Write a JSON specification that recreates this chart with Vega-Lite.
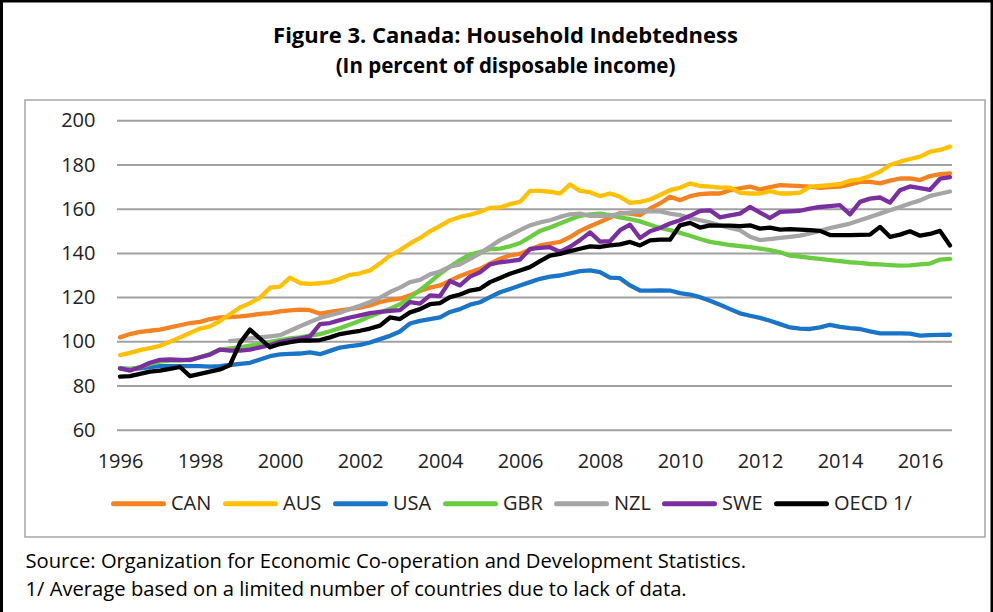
{
  "$schema": "https://vega.github.io/schema/vega-lite/v6.json",
  "width": 993,
  "height": 612,
  "autosize": "none",
  "padding": 0,
  "background": "white",
  "config": {"view": {"stroke": null}, "font": "Open Sans"},
  "title": {
    "text": "Figure 3. Canada: Household Indebtedness",
    "subtitle": "(In percent of disposable income)",
    "anchor": "middle",
    "frame": "group",
    "offset": -81,
    "dx": 9,
    "font": "Open Sans",
    "fontSize": 22,
    "fontWeight": "bold",
    "color": "#000000",
    "subtitleFont": "Open Sans",
    "subtitleFontSize": 20.5,
    "subtitleFontWeight": "bold",
    "subtitleColor": "#000000",
    "subtitlePadding": 9
  },
  "layer": [
    {
      "data": {"values": [{}]},
      "mark": {"type": "rect", "fill": "transparent", "stroke": "#a6a6a6", "strokeWidth": 1.5},
      "encoding": {
        "x": {"datum": 1993.625, "type": "quantitative", "scale": {"domain": [1993, 2017.825], "nice": false, "zero": false}},
        "x2": {"datum": 2017.625},
        "y": {"datum": 209.41, "type": "quantitative", "scale": {"domain": [-22.26, 254.66], "nice": false, "zero": false}},
        "y2": {"datum": 11.67}
      }
    },
    {
      "data": {"values": [{"g": 60}, {"g": 80}, {"g": 100}, {"g": 120}, {"g": 140}, {"g": 160}, {"g": 180}, {"g": 200}]},
      "mark": {"type": "rule", "color": "#a0a0a0", "strokeWidth": 2},
      "encoding": {
        "y": {"field": "g", "type": "quantitative"},
        "x": {"datum": 1995.925, "type": "quantitative"},
        "x2": {"datum": 2016.8}
      }
    },
    {
      "data": {"values": [
        {"t": 1996.00, "CAN": 102, "AUS": 94, "USA": 88, "GBR": 88, "NZL": null, "SWE": 88, "OECD": 84.2},
        {"t": 1996.25, "CAN": 103.5, "AUS": 95, "USA": 87.7, "GBR": 87.5, "NZL": null, "SWE": 87, "OECD": 84.5},
        {"t": 1996.50, "CAN": 104.5, "AUS": 96.2, "USA": 88, "GBR": 88.5, "NZL": null, "SWE": 88.5, "OECD": 85.5},
        {"t": 1996.75, "CAN": 105, "AUS": 97.2, "USA": 88.5, "GBR": 90, "NZL": null, "SWE": 90.5, "OECD": 86.5},
        {"t": 1997.00, "CAN": 105.5, "AUS": 98.2, "USA": 89, "GBR": 91, "NZL": null, "SWE": 91.8, "OECD": 87},
        {"t": 1997.25, "CAN": 106.5, "AUS": 100, "USA": 89, "GBR": 91.5, "NZL": null, "SWE": 92, "OECD": 87.8},
        {"t": 1997.50, "CAN": 107.5, "AUS": 102, "USA": 89, "GBR": 91.5, "NZL": null, "SWE": 91.8, "OECD": 88.6},
        {"t": 1997.75, "CAN": 108.5, "AUS": 104, "USA": 89, "GBR": 92, "NZL": null, "SWE": 91.7, "OECD": 84.5},
        {"t": 1998.00, "CAN": 109, "AUS": 106, "USA": 89, "GBR": 93, "NZL": null, "SWE": 93, "OECD": 85.5},
        {"t": 1998.25, "CAN": 110.3, "AUS": 107, "USA": 88.8, "GBR": 94.5, "NZL": null, "SWE": 94.2, "OECD": 86.5},
        {"t": 1998.50, "CAN": 111, "AUS": 109.5, "USA": 89, "GBR": 96.5, "NZL": null, "SWE": 96.5, "OECD": 87.5},
        {"t": 1998.75, "CAN": 111.2, "AUS": 112.5, "USA": 89.5, "GBR": 97, "NZL": 100.3, "SWE": 96, "OECD": 89.5},
        {"t": 1999.00, "CAN": 111.5, "AUS": 115.5, "USA": 90, "GBR": 97.5, "NZL": 100.7, "SWE": 96, "OECD": 99.5},
        {"t": 1999.25, "CAN": 112, "AUS": 117.5, "USA": 90.5, "GBR": 98.3, "NZL": 101.5, "SWE": 96.5, "OECD": 105.5},
        {"t": 1999.50, "CAN": 112.6, "AUS": 120, "USA": 92, "GBR": 99, "NZL": 102, "SWE": 97.5, "OECD": 101.5},
        {"t": 1999.75, "CAN": 113, "AUS": 124.5, "USA": 93.5, "GBR": 100, "NZL": 102.5, "SWE": 98.5, "OECD": 97.5},
        {"t": 2000.00, "CAN": 113.8, "AUS": 125, "USA": 94.3, "GBR": 100.8, "NZL": 103, "SWE": 100, "OECD": 99},
        {"t": 2000.25, "CAN": 114.2, "AUS": 129, "USA": 94.5, "GBR": 101.5, "NZL": 105, "SWE": 100.8, "OECD": 99.8},
        {"t": 2000.50, "CAN": 114.6, "AUS": 126.5, "USA": 94.7, "GBR": 102, "NZL": 107, "SWE": 101.5, "OECD": 100.5},
        {"t": 2000.75, "CAN": 114.3, "AUS": 126.2, "USA": 95.2, "GBR": 102.8, "NZL": 109, "SWE": 102.5, "OECD": 100.6},
        {"t": 2001.00, "CAN": 112.7, "AUS": 126.5, "USA": 94.4, "GBR": 103.5, "NZL": 110.8, "SWE": 108, "OECD": 100.8},
        {"t": 2001.25, "CAN": 113.5, "AUS": 127, "USA": 95.9, "GBR": 104.8, "NZL": 112, "SWE": 108.5, "OECD": 102},
        {"t": 2001.50, "CAN": 114.2, "AUS": 128.5, "USA": 97.4, "GBR": 106.2, "NZL": 113.2, "SWE": 109.8, "OECD": 103.5},
        {"t": 2001.75, "CAN": 114.8, "AUS": 130.3, "USA": 98, "GBR": 107.8, "NZL": 114.8, "SWE": 111, "OECD": 104.3},
        {"t": 2002.00, "CAN": 115.5, "AUS": 131, "USA": 98.6, "GBR": 109.5, "NZL": 116.3, "SWE": 112, "OECD": 105},
        {"t": 2002.25, "CAN": 116.5, "AUS": 132.3, "USA": 99.7, "GBR": 111.5, "NZL": 118, "SWE": 113, "OECD": 106},
        {"t": 2002.50, "CAN": 118, "AUS": 135.5, "USA": 101.2, "GBR": 113.3, "NZL": 120, "SWE": 113.5, "OECD": 107.3},
        {"t": 2002.75, "CAN": 119, "AUS": 139, "USA": 102.7, "GBR": 115, "NZL": 122.5, "SWE": 114, "OECD": 111},
        {"t": 2003.00, "CAN": 119.5, "AUS": 141.5, "USA": 104.7, "GBR": 117, "NZL": 124.5, "SWE": 114.3, "OECD": 110.3},
        {"t": 2003.25, "CAN": 121, "AUS": 144.5, "USA": 108.3, "GBR": 120, "NZL": 127, "SWE": 118, "OECD": 113.3},
        {"t": 2003.50, "CAN": 123, "AUS": 147, "USA": 109.5, "GBR": 123.5, "NZL": 128, "SWE": 117.3, "OECD": 114.8},
        {"t": 2003.75, "CAN": 124.5, "AUS": 150, "USA": 110.3, "GBR": 127, "NZL": 130.5, "SWE": 121, "OECD": 117},
        {"t": 2004.00, "CAN": 125.5, "AUS": 152.5, "USA": 111, "GBR": 130.8, "NZL": 131.8, "SWE": 120.7, "OECD": 117.5},
        {"t": 2004.25, "CAN": 127.7, "AUS": 155, "USA": 113.5, "GBR": 134, "NZL": 134, "SWE": 127.5, "OECD": 120.2},
        {"t": 2004.50, "CAN": 129.8, "AUS": 156.5, "USA": 114.8, "GBR": 137, "NZL": 135, "SWE": 125.5, "OECD": 121.4},
        {"t": 2004.75, "CAN": 131.5, "AUS": 157.5, "USA": 116.8, "GBR": 139.5, "NZL": 137.5, "SWE": 129.5, "OECD": 123.2},
        {"t": 2005.00, "CAN": 133, "AUS": 158.8, "USA": 117.9, "GBR": 140.6, "NZL": 140, "SWE": 131.5, "OECD": 124},
        {"t": 2005.25, "CAN": 135.3, "AUS": 160.6, "USA": 120.2, "GBR": 142, "NZL": 143, "SWE": 135, "OECD": 127},
        {"t": 2005.50, "CAN": 137.6, "AUS": 160.8, "USA": 122.4, "GBR": 142.2, "NZL": 146, "SWE": 136, "OECD": 128.9},
        {"t": 2005.75, "CAN": 139.1, "AUS": 162.3, "USA": 123.9, "GBR": 143.2, "NZL": 148.2, "SWE": 136.5, "OECD": 130.8},
        {"t": 2006.00, "CAN": 139.8, "AUS": 163.3, "USA": 125.5, "GBR": 144.7, "NZL": 150.5, "SWE": 137.2, "OECD": 132.3},
        {"t": 2006.25, "CAN": 141.8, "AUS": 168.3, "USA": 127, "GBR": 147.4, "NZL": 152.7, "SWE": 142, "OECD": 133.8},
        {"t": 2006.50, "CAN": 143.6, "AUS": 168.3, "USA": 128.5, "GBR": 150.2, "NZL": 154, "SWE": 142.5, "OECD": 136.5},
        {"t": 2006.75, "CAN": 144.4, "AUS": 167.9, "USA": 129.5, "GBR": 151.7, "NZL": 155, "SWE": 142.8, "OECD": 139},
        {"t": 2007.00, "CAN": 145.2, "AUS": 167.1, "USA": 130, "GBR": 153.5, "NZL": 156.5, "SWE": 140.7, "OECD": 139.8},
        {"t": 2007.25, "CAN": 147.4, "AUS": 171.2, "USA": 131, "GBR": 155.3, "NZL": 157.7, "SWE": 143, "OECD": 141},
        {"t": 2007.50, "CAN": 150.2, "AUS": 168.3, "USA": 132, "GBR": 157, "NZL": 158, "SWE": 146, "OECD": 142.1},
        {"t": 2007.75, "CAN": 152.3, "AUS": 167.7, "USA": 132.3, "GBR": 157.7, "NZL": 157, "SWE": 149.5, "OECD": 143.2},
        {"t": 2008.00, "CAN": 154.2, "AUS": 165.9, "USA": 131.5, "GBR": 158, "NZL": 157, "SWE": 145.3, "OECD": 142.9},
        {"t": 2008.25, "CAN": 156.2, "AUS": 167.1, "USA": 129, "GBR": 157.3, "NZL": 157, "SWE": 145.5, "OECD": 143.6},
        {"t": 2008.50, "CAN": 158.3, "AUS": 165.6, "USA": 128.8, "GBR": 156.3, "NZL": 158, "SWE": 150.5, "OECD": 144.1},
        {"t": 2008.75, "CAN": 158, "AUS": 162.9, "USA": 125.5, "GBR": 155.5, "NZL": 158.5, "SWE": 153, "OECD": 145.2},
        {"t": 2009.00, "CAN": 157.3, "AUS": 163.3, "USA": 123.2, "GBR": 154.5, "NZL": 159, "SWE": 147, "OECD": 143.6},
        {"t": 2009.25, "CAN": 160.3, "AUS": 164.4, "USA": 123.2, "GBR": 153, "NZL": 159, "SWE": 150, "OECD": 145.9},
        {"t": 2009.50, "CAN": 162.6, "AUS": 166.4, "USA": 123.3, "GBR": 151.5, "NZL": 159, "SWE": 151.5, "OECD": 146.2},
        {"t": 2009.75, "CAN": 165.6, "AUS": 168.6, "USA": 123.2, "GBR": 150.5, "NZL": 158, "SWE": 153.5, "OECD": 146.2},
        {"t": 2010.00, "CAN": 164.1, "AUS": 169.7, "USA": 122, "GBR": 149.3, "NZL": 157.3, "SWE": 155, "OECD": 152.7},
        {"t": 2010.25, "CAN": 165.9, "AUS": 171.7, "USA": 121.4, "GBR": 148, "NZL": 156, "SWE": 157, "OECD": 153.8},
        {"t": 2010.50, "CAN": 166.8, "AUS": 170.5, "USA": 120.2, "GBR": 146.5, "NZL": 155, "SWE": 159.2, "OECD": 151.7},
        {"t": 2010.75, "CAN": 167.1, "AUS": 170.2, "USA": 118.6, "GBR": 145.2, "NZL": 154, "SWE": 159.5, "OECD": 152.7},
        {"t": 2011.00, "CAN": 167.1, "AUS": 169.8, "USA": 116.8, "GBR": 144.5, "NZL": 152.7, "SWE": 156.3, "OECD": 152.6},
        {"t": 2011.25, "CAN": 168.6, "AUS": 169.8, "USA": 114.8, "GBR": 143.8, "NZL": 151.5, "SWE": 157.2, "OECD": 152.6},
        {"t": 2011.50, "CAN": 169.4, "AUS": 167.4, "USA": 112.9, "GBR": 143.3, "NZL": 150.5, "SWE": 158, "OECD": 152.3},
        {"t": 2011.75, "CAN": 170.2, "AUS": 167.1, "USA": 111.8, "GBR": 142.8, "NZL": 147.5, "SWE": 161, "OECD": 152.7},
        {"t": 2012.00, "CAN": 168.9, "AUS": 167.1, "USA": 110.8, "GBR": 142.2, "NZL": 146, "SWE": 158.5, "OECD": 151.2},
        {"t": 2012.25, "CAN": 170, "AUS": 168.2, "USA": 109.5, "GBR": 141.5, "NZL": 146.5, "SWE": 156, "OECD": 151.7},
        {"t": 2012.50, "CAN": 170.9, "AUS": 167.1, "USA": 108, "GBR": 140.5, "NZL": 147, "SWE": 158.8, "OECD": 150.8},
        {"t": 2012.75, "CAN": 170.7, "AUS": 167.1, "USA": 106.5, "GBR": 139, "NZL": 147.5, "SWE": 159, "OECD": 151},
        {"t": 2013.00, "CAN": 170.4, "AUS": 167.5, "USA": 106, "GBR": 138.6, "NZL": 148, "SWE": 159.3, "OECD": 150.8},
        {"t": 2013.25, "CAN": 170.2, "AUS": 170.2, "USA": 105.8, "GBR": 138, "NZL": 149, "SWE": 160.3, "OECD": 150.5},
        {"t": 2013.50, "CAN": 169.7, "AUS": 170.5, "USA": 106.5, "GBR": 137.5, "NZL": 150.2, "SWE": 161, "OECD": 150.2},
        {"t": 2013.75, "CAN": 170, "AUS": 170.9, "USA": 107.7, "GBR": 137, "NZL": 151.5, "SWE": 161.4, "OECD": 148.3},
        {"t": 2014.00, "CAN": 170.2, "AUS": 171.4, "USA": 106.8, "GBR": 136.5, "NZL": 152.5, "SWE": 161.8, "OECD": 148.3},
        {"t": 2014.25, "CAN": 171.2, "AUS": 172.9, "USA": 106.2, "GBR": 136, "NZL": 153.5, "SWE": 157.7, "OECD": 148.3},
        {"t": 2014.50, "CAN": 172.4, "AUS": 173.5, "USA": 105.8, "GBR": 135.7, "NZL": 155, "SWE": 163.3, "OECD": 148.4},
        {"t": 2014.75, "CAN": 172.4, "AUS": 175, "USA": 104.7, "GBR": 135.2, "NZL": 156.5, "SWE": 164.8, "OECD": 148.5},
        {"t": 2015.00, "CAN": 171.7, "AUS": 177, "USA": 103.8, "GBR": 135, "NZL": 158, "SWE": 165.3, "OECD": 152},
        {"t": 2015.25, "CAN": 172.9, "AUS": 180, "USA": 103.8, "GBR": 134.7, "NZL": 159.5, "SWE": 163, "OECD": 147.5},
        {"t": 2015.50, "CAN": 173.9, "AUS": 181.5, "USA": 103.8, "GBR": 134.5, "NZL": 161, "SWE": 168.6, "OECD": 148.5},
        {"t": 2015.75, "CAN": 173.9, "AUS": 182.7, "USA": 103.7, "GBR": 134.6, "NZL": 162.6, "SWE": 170.3, "OECD": 150},
        {"t": 2016.00, "CAN": 173.2, "AUS": 183.8, "USA": 102.8, "GBR": 135, "NZL": 164, "SWE": 169.5, "OECD": 148},
        {"t": 2016.25, "CAN": 175, "AUS": 186, "USA": 103, "GBR": 135.4, "NZL": 166, "SWE": 168.8, "OECD": 148.8},
        {"t": 2016.50, "CAN": 175.9, "AUS": 186.8, "USA": 103.1, "GBR": 137.2, "NZL": 167, "SWE": 173.8, "OECD": 150.2},
        {"t": 2016.75, "CAN": 176.2, "AUS": 188.3, "USA": 103.2, "GBR": 137.5, "NZL": 168, "SWE": 174.5, "OECD": 143.6}
      ]},
      "transform": [{"fold": ["CAN", "AUS", "USA", "GBR", "NZL", "SWE", "OECD"], "as": ["country", "value"]}],
      "mark": {"type": "line", "strokeWidth": 4.3, "strokeJoin": "round", "strokeCap": "round"},
      "encoding": {
        "x": {
          "field": "t", "type": "quantitative",
          "scale": {"domain": [1993, 2017.825], "nice": false, "zero": false},
          "axis": {
            "values": [1996, 1998, 2000, 2002, 2004, 2006, 2008, 2010, 2012, 2014, 2016],
            "format": "d",
            "ticks": false, "domain": false, "grid": false,
            "labelPadding": 0, "labelBaseline": "middle", "offset": -151,
            "labelFont": "Open Sans", "labelFontSize": 20, "labelColor": "#222222",
            "labelOverlap": false, "labelFlush": false,
            "title": ["Source: Organization for Economic Co-operation and Development Statistics.", "1/ Average based on a limited number of countries due to lack of data."],
            "titleX": 25, "titleY": 90, "titleAlign": "left", "titleAnchor": "start", "titleBaseline": "top",
            "titleFont": "Open Sans", "titleFontSize": 20.2, "titleFontWeight": "normal", "titleLineHeight": 28.5, "titleColor": "#000000"
          }
        },
        "y": {
          "field": "value", "type": "quantitative",
          "scale": {"domain": [-22.26, 254.66], "nice": false, "zero": false},
          "axis": {
            "values": [60, 80, 100, 120, 140, 160, 180, 200],
            "ticks": false, "domain": false, "grid": false,
            "labelPadding": 3, "offset": -98,
            "labelFont": "Open Sans", "labelFontSize": 20, "labelColor": "#222222",
            "title": null
          }
        },
        "color": {
          "field": "country", "type": "nominal",
          "scale": {"domain": ["CAN", "AUS", "USA", "GBR", "NZL", "SWE", "OECD"], "range": ["#F58220", "#FFC000", "#1A75C9", "#6ACD41", "#A5A5A5", "#7A2FA0", "#000000"]},
          "legend": {
            "orient": "none", "legendX": 111, "legendY": 476, "direction": "horizontal", "columns": 7,
            "title": null, "padding": 0,
            "symbolType": "stroke", "symbolSize": 2500, "symbolStrokeWidth": 5,
            "labelFont": "Open Sans", "labelFontSize": 20, "labelColor": "#222222", "labelOffset": 5,
            "columnPadding": 3,
            "labelExpr": "datum.label == 'OECD' ? 'OECD 1/' : datum.label",
            "encode": {"symbols": {"update": {"strokeCap": {"value": "round"}}}}
          }
        }
      }
    },
    {
      "data": {"values": [{}]},
      "mark": {"type": "rule", "color": "#000000", "strokeWidth": 6},
      "encoding": {"x": {"datum": 1993, "type": "quantitative"}}
    },
    {
      "data": {"values": [{}]},
      "mark": {"type": "rule", "color": "#000000", "strokeWidth": 5},
      "encoding": {"x": {"datum": 2017.825, "type": "quantitative"}}
    },
    {
      "data": {"values": [{}]},
      "mark": {"type": "rule", "color": "#000000", "strokeWidth": 5},
      "encoding": {"y": {"datum": 254.66, "type": "quantitative"}}
    }
  ]
}
